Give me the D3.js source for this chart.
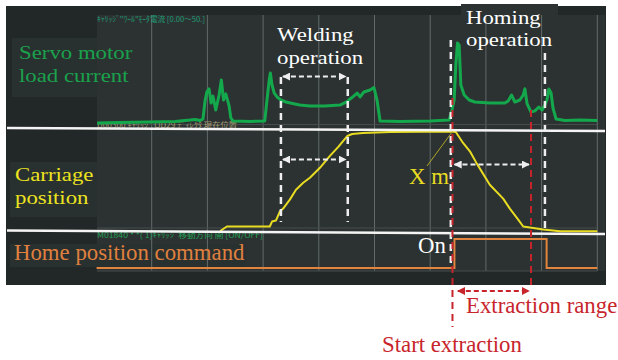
<!DOCTYPE html>
<html><head><meta charset="utf-8">
<script src="https://cdn.jsdelivr.net/npm/d3@7"></script>
<style>html,body{margin:0;padding:0;background:#fff}svg{display:block}
.lbl{font-family:"Liberation Serif","Tinos","Times New Roman",serif;font-size:22.8px}
.jp{font-family:"Noto Sans CJK JP","Noto Sans",sans-serif;font-size:7.5px}
</style>
</head><body>
<svg id="c" width="618" height="360"></svg>
<script>
// ---- data (time in s, grid every 10 s) ----
const gridTimes = [10,20,30,40,50,60,70,80,90];
const currentTime  = [0.2,4.3,9.7,14.2,16.9,17.8,18.7,19.2,19.6,19.9,20.3,20.65,21.0,21.5,22.1,22.5,22.9,23.3,23.9,24.2,24.6,27.7,30.3,30.7,31.1,31.3,31.6,32.0,32.5,33.2,34.1,35.7,36.6,38.4,41.1,43.8,45.1,45.6,46.1,46.9,47.4,48.1,49.2,49.9,50.45,51.0,54.6,60.0,63.4,63.9,64.3,64.6,64.9,65.2,65.5,66.1,67.0,68.0,70.7,73.4,74.0,74.6,75.2,76.1,76.7,77.0,77.4,78.1,78.8,79.5,80.1,80.6,81.0,81.3,81.7,82.05,82.6,84.2,86.9,90.0];
const currentValue = [0.5,0.7,0.9,1.2,1.8,2.1,1.6,2.3,11.0,14.7,16.1,9.6,12.8,6.4,13.3,20.2,11.0,13.8,8.3,2.8,1.4,1.2,1.4,11.0,20.2,23.4,17.9,14.2,12.4,11.0,10.1,9.2,8.7,8.3,8.3,8.7,10.3,11.5,12.4,14.2,12.4,14.7,15.6,16.7,11.0,1.4,1.2,1.4,1.8,6.4,11.0,27.1,37.2,36.2,17.9,13.3,11.0,10.1,9.6,9.6,10.6,13.3,10.1,11.0,13.3,16.1,9.2,5.5,6.0,7.8,6.4,8.7,11.5,16.1,14.2,7.3,2.3,1.6,1.8,1.6];
const positionTime  = [22.3,23.5,31.2,31.6,32.3,33.0,33.6,34.8,35.9,37.2,38.4,40.2,42.0,43.5,45.1,46.0,47.9,52.8,63.9,64.6,65.9,67.2,68.4,70.7,73.1,74.3,75.8,76.7,77.9,80.3,83.3,90.0];
const positionValue = [0.5,5.0,5.0,9.9,10.9,19.8,22.8,31.7,41.6,48.5,53.5,63.4,75.2,84.2,95.0,97.0,98.0,99.0,99.5,99.0,88.1,79.2,67.3,46.5,32.7,22.8,11.9,5.0,4.0,2.0,0.3,0.3];
const commandTime  = [0.1,64.35,80.9,90.0];
const commandValue = [0,1,0,0];
const weldStart = 33.2, weldEnd = 45.2, homeStart = 63.7, homeEnd = 80.6, extractStart = 64.0, extractEnd = 78.1;
const currentLabel  = ["Servo motor","load current"];
const positionLabel = ["Carriage","position"];
const commandLabel  = "Home position command";
const weldLabel = ["Welding","operation"];
const homeLabel = ["Homing","operation"];
const jpTitles = ["ｷｬﾘｯｼﾞ\"ﾜｰﾙ\"ﾓｰﾀ電流 [0.00～50.]","D00300 ｷｬﾘｯｼﾞ OD29 ﾃﾞｨﾚｸﾀ 現在位置","M01840 * *( 1)ｷｬﾘｯｼﾞ移動方向 開 [ON/OFF]"];

const svg = d3.select("#c");
const x = d3.scaleLinear().domain([0,90]).range([96,597.3]);
const yCur = d3.scaleLinear().domain([0,50]).range([124,15]);
const yPos = d3.scaleLinear().domain([0,100]).range([231.5,131]);
const yCmd = d3.scaleLinear().domain([0,1]).range([268,239]);

// panels
svg.append("rect").attr("x",6).attr("y",6).attr("width",600).attr("height",279).attr("fill","#222727");
svg.append("rect").attr("x",97).attr("y",15).attr("width",508).attr("height",256).attr("fill","#2c3232");
svg.append("rect").attr("x",461).attr("y",4).attr("width",97).attr("height",14).attr("fill","#2c3232");
svg.append("rect").attr("x",12).attr("y",38).attr("width",85).attr("height",59).attr("fill","#293030");
svg.append("rect").attr("x",10).attr("y",162).attr("width",87).attr("height",55).attr("fill","#293030");
svg.append("rect").attr("x",10).attr("y",244).attr("width",236).attr("height",23).attr("fill","#283030");

// grid
svg.append("g").selectAll("line").data(gridTimes).join("line")
  .attr("x1",d=>x(d)).attr("x2",d=>x(d)).attr("y1",15).attr("y2",271)
  .attr("stroke","#636a6a").attr("stroke-width",1);
[124.5,228,271].forEach(v=>svg.append("line").attr("x1",97).attr("x2",597).attr("y1",v).attr("y2",v).attr("stroke","#464c4c").attr("stroke-width",1));

// small jp titles
[[22,"#1f9c74",108],[128,"#a49a72",140],[238,"#25a055",166]].forEach((p,i)=>{
  svg.append("text").attr("class","jp").attr("x",97).attr("y",p[0]).attr("fill",p[1])
    .attr("textLength",p[2]).attr("lengthAdjust","spacingAndGlyphs").text(jpTitles[i]);
});

// series
const cur = d3.range(currentTime.length).map(i=>[currentTime[i],currentValue[i]]);
const pos = d3.range(positionTime.length).map(i=>[positionTime[i],positionValue[i]]);
const cmd = d3.range(commandTime.length).map(i=>[commandTime[i],commandValue[i]]);
svg.append("path").attr("d",d3.line().x(d=>x(d[0])).y(d=>yCur(d[1]))(cur))
  .attr("fill","none").attr("stroke","#14a84c").attr("stroke-width",3).attr("stroke-linejoin","round");
svg.append("path").attr("d",d3.line().x(d=>x(d[0])).y(d=>yPos(d[1]))(pos))
  .attr("fill","none").attr("stroke","#e8dc22").attr("stroke-width",2).attr("stroke-linejoin","round");
svg.append("path").attr("d",d3.line().curve(d3.curveStepAfter).x(d=>x(d[0])).y(d=>yCmd(d[1]))(cmd))
  .attr("fill","none").attr("stroke","#e0843e").attr("stroke-width",2);

// white separators
svg.append("line").attr("x1",7).attr("y1",128).attr("x2",605).attr("y2",131).attr("stroke","#f4f4f4").attr("stroke-width",2.5);
svg.append("line").attr("x1",7).attr("y1",230.6).attr("x2",605).attr("y2",234).attr("stroke","#f4f4f4").attr("stroke-width",2.5);

// arrowheads
const defs = svg.append("defs");
function mk(id,color){
  defs.append("marker").attr("id",id).attr("viewBox","0 0 10 10").attr("refX",9).attr("refY",5)
   .attr("markerWidth",4).attr("markerHeight",4).attr("orient","auto-start-reverse").attr("markerUnits","strokeWidth")
   .append("path").attr("d","M0,0L10,5L0,10Z").attr("fill",color);
}
mk("aw","#eeeeee"); mk("ar","#c8242c");

function vdash(t,y1,y2,color,w){
  svg.append("line").attr("x1",x(t)).attr("x2",x(t)).attr("y1",y1).attr("y2",y2)
   .attr("stroke",color).attr("stroke-width",w).attr("stroke-dasharray","7,5");
}
function harrow(t1,t2,y,color,mid){
  svg.append("line").attr("x1",x(t1)+2).attr("x2",x(t2)-2).attr("y1",y).attr("y2",y)
   .attr("stroke",color).attr("stroke-width",2).attr("stroke-dasharray","5,3")
   .attr("marker-start",`url(#${mid})`).attr("marker-end",`url(#${mid})`);
}
const W = "#eeeeee", R = "#c8242c";
vdash(weldStart,77,222,W,2.5); vdash(weldEnd,77,222,W,2.5);
vdash(homeStart,40,268,W,2.5); vdash(homeEnd,53,230,W,2.5);
harrow(weldStart,weldEnd,76.5,W,"aw"); harrow(weldStart,weldEnd,159.5,W,"aw");
harrow(extractStart,extractEnd,164.5,W,"aw");
vdash(extractStart,98,327,R,2); vdash(extractEnd,110,287,R,2);
harrow(extractStart+0.6,extractEnd,291,R,"ar");

// X m pointer
svg.append("line").attr("x1",x(extractStart)).attr("y1",yPos(99.5)).attr("x2",427).attr("y2",166)
  .attr("stroke","#b0a428").attr("stroke-width",1);

// single-line texts
function txt(s,tx,ty,color){
  svg.append("text").attr("class","lbl").attr("x",tx).attr("y",ty).attr("fill",color).text(s);
}
// two-line labels: slightly smaller glyph height, width kept as at full size
function txt2(lines,tx,ty,color,lh){
  lines.forEach((s,i)=>{
    const t = svg.append("text").attr("class","lbl").attr("x",tx).attr("y",ty+i*lh).attr("fill",color).text(s);
    const w = t.node().getComputedTextLength();
    t.style("font-size","19.8px").attr("textLength",w).attr("lengthAdjust","spacingAndGlyphs");
  });
}
txt2(currentLabel,19,59,"#1aa24c",23);
txt2(positionLabel,15,181.3,"#ece41e",22.3);
txt(commandLabel,14,260,"#e0803e");
txt2(weldLabel,277,41.2,"#ffffff",22.3);
txt2(homeLabel,466,24,"#ffffff",22.2);
txt("X m",409,183.5,"#e8dc22"); txt("On",418,252.5,"#ffffff");
txt("Extraction range",466,312.5,R); txt("Start extraction",382,351.5,R);
</script></body></html>
